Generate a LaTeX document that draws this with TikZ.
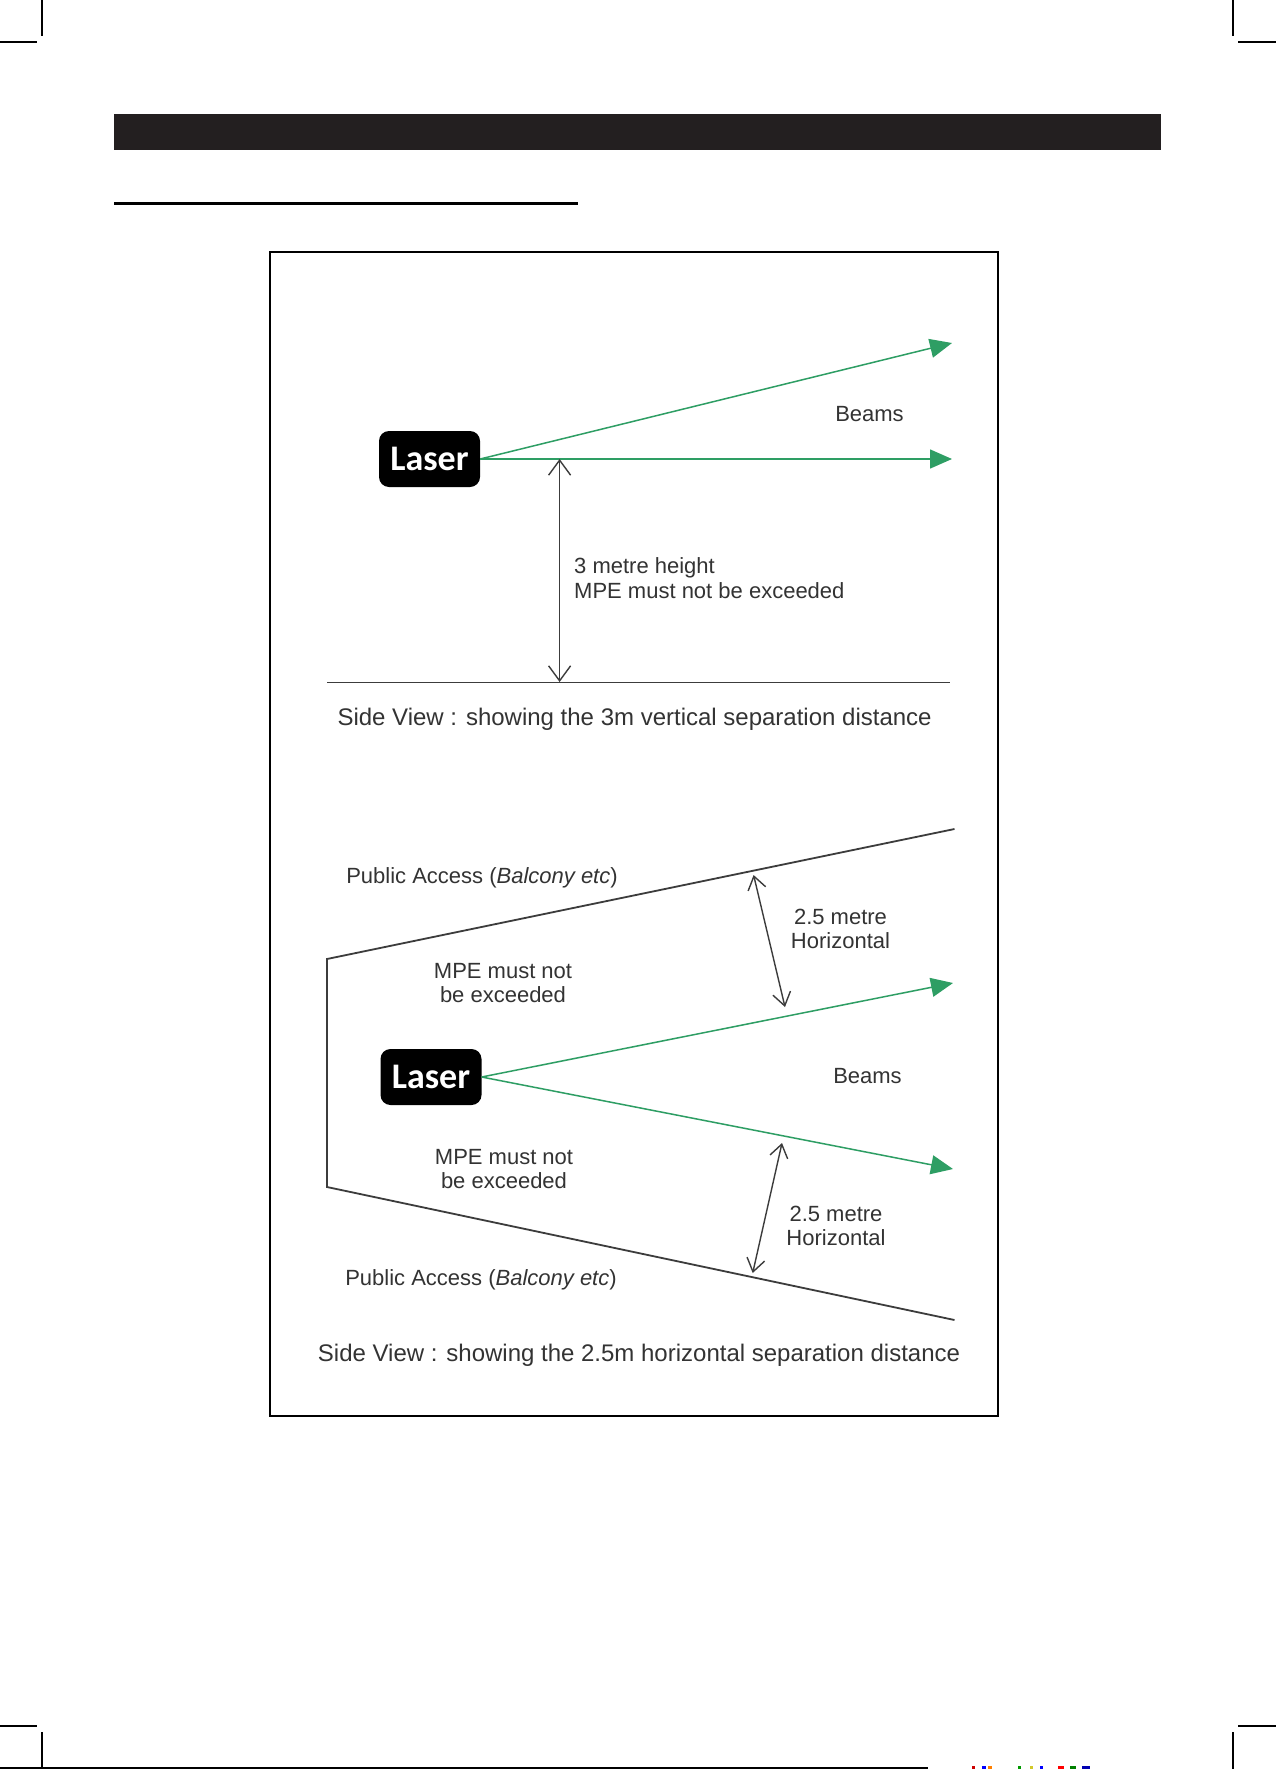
\documentclass[tikz,border=0pt]{standalone}
\usepackage{fontspec}
\setmainfont{Liberation Sans}
\newfontfamily\laserfont{Carlito}
\usetikzlibrary{arrows.meta}
\definecolor{txtgray}{RGB}{51,51,51}
\definecolor{lngray}{RGB}{60,60,60}
\definecolor{beamgreen}{RGB}{46,158,100}
\definecolor{barblack}{RGB}{35,31,32}
\tikzset{
  lbl/.style={inner sep=0pt, text=txtgray, font=\fontsize{22}{24.5}\selectfont},
  caption/.style={inner sep=0pt, text=txtgray, font=\fontsize{24}{28}\selectfont},
  laserbox/.style={fill=black, rounded corners=10pt, minimum width=101pt, minimum height=56pt, inner sep=0pt, text=white, font=\laserfont\bfseries\fontsize{36}{40}\selectfont},
  beam/.style={draw=beamgreen, line width=1.5pt, -{Triangle[length=22pt,width=19pt]}, fill=beamgreen},
  wall/.style={draw=lngray, line width=1.8pt},
  dimarrow/.style={draw=lngray, line width=1.4pt, {Straight Barb[length=15pt,width=22pt]}-{Straight Barb[length=15pt,width=22pt]}},
  dimarrowsm/.style={draw=lngray, line width=1.4pt, {Straight Barb[length=13pt,width=18pt]}-{Straight Barb[length=13pt,width=18pt]}},
  crop/.style={draw=black, line width=1.5pt}
}
\begin{document}
\begin{tikzpicture}[x=1pt, y=-1pt]
\useasboundingbox (0,0) rectangle (1276,1769);
\fill[white] (0,0) rectangle (1276,1769);
% crop marks
\draw[crop] (42,0) -- (42,36);
\draw[crop] (0,42) -- (37,42);
\draw[crop] (1233,0) -- (1233,36);
\draw[crop] (1238,42) -- (1276,42);
\draw[crop] (42,1732) -- (42,1769);
\draw[crop] (0,1726) -- (37,1726);
\draw[crop] (1233,1732) -- (1233,1769);
\draw[crop] (1238,1726) -- (1276,1726);
\draw[black, line width=2.5pt] (0,1768) -- (928,1768);
\fill[red!80!black] (972,1766) rectangle (975,1769);
\fill[blue] (982,1766) rectangle (986,1769);
\fill[orange] (988,1766) rectangle (992,1769);
\fill[green!60!black] (1018,1766) rectangle (1021,1769);
\fill[yellow!80!black] (1030,1766) rectangle (1033,1769);
\fill[blue] (1040,1766) rectangle (1043,1769);
\fill[red] (1058,1766) rectangle (1064,1769);
\fill[green!50!black] (1070,1766) rectangle (1076,1769);
\fill[blue!70!black] (1082,1766) rectangle (1090,1769);
% header bar and rule
\fill[barblack] (114,114) rectangle (1161,150);
\fill[black] (114,202) rectangle (578,205);
% frame
\draw[black, line width=2pt] (270,252) rectangle (998,1416);

% ---------- top diagram ----------
\node[laserbox] (laser1) at (429.5,459) {Laser};
\coordinate (tipA) at (952,343);
\coordinate (tipB) at (952,459);
\path[beam] (laser1.east) -- (tipA);
\path[beam] (laser1.east) -- (tipB);
\node[lbl] (beams1) at (869.5,414) {Beams};
\coordinate (g1) at (327,682.5);
\coordinate (g2) at (950,682.5);
\draw[wall] (g1) -- (g2);
\coordinate (h1) at (559.6,459);
\coordinate (h2) at (559.6,682);
\draw[dimarrow] (h1) -- (h2);
\node[lbl, anchor=west, align=left] (hlbl) at (574,578) {3 metre height\\MPE must not be exceeded};
\node[caption] (cap1) at (634.6,719.5) {Side View : showing the 3m vertical separation distance};

% ---------- bottom diagram ----------
\coordinate (w1) at (954.5,829);
\coordinate (w2) at (327,959);
\coordinate (w3) at (327,1187);
\coordinate (w4) at (954.5,1320);
\draw[wall] (w1) -- (w2) -- (w3) -- (w4);
\node[laserbox] (laser2) at (431,1077) {Laser};
\coordinate (tipC) at (953,983);
\coordinate (tipD) at (953,1169);
\path[beam] (laser2.east) -- (tipC);
\path[beam] (laser2.east) -- (tipD);
\node[lbl] (beams2) at (867.5,1076) {Beams};
\coordinate (d1) at (753.6,875);
\coordinate (d2) at (785,1007);
\draw[dimarrowsm] (d1) -- (d2);
\coordinate (d3) at (782,1143);
\coordinate (d4) at (752.7,1273);
\draw[dimarrowsm] (d3) -- (d4);
\node[lbl] (pa1) at (482,878) {Public Access (\textit{Balcony etc})};
\node[lbl] (pa2) at (481,1279.5) {Public Access (\textit{Balcony etc})};
\node[lbl, align=center] (mpe1) at (503,983) {MPE must not\\be exceeded};
\node[lbl, align=center] (mpe2) at (504,1169) {MPE must not\\be exceeded};
\node[lbl, align=center] (sep1) at (840.5,929) {2.5 metre\\Horizontal};
\node[lbl, align=center] (sep2) at (836,1226) {2.5 metre\\Horizontal};
\node[caption] (cap2) at (639,1355.5) {Side View : showing the 2.5m horizontal separation distance};
\end{tikzpicture}
\end{document}
